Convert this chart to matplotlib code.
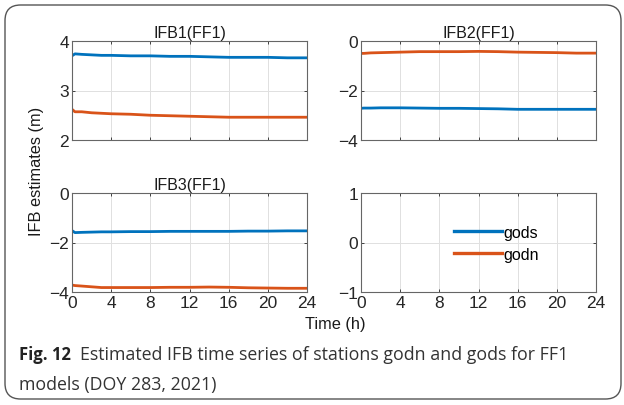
import numpy as np
import matplotlib
matplotlib.use("Agg")
import matplotlib.pyplot as plt
from matplotlib.patches import FancyBboxPatch

# values (time in hours, IFB in metres)
t = [0, 0.3, 1, 2, 3, 4, 6, 8, 10, 12, 14, 16, 18, 20, 22, 24]

ifb1_gods = [3.70, 3.74, 3.73, 3.72, 3.71, 3.71, 3.70, 3.70, 3.69, 3.69, 3.68, 3.67, 3.67, 3.67, 3.66, 3.66]
ifb1_godn = [2.62, 2.57, 2.57, 2.55, 2.54, 2.53, 2.52, 2.50, 2.49, 2.48, 2.47, 2.46, 2.46, 2.46, 2.46, 2.46]

ifb2_gods = [-2.72, -2.71, -2.71, -2.70, -2.70, -2.70, -2.71, -2.72, -2.72, -2.73, -2.74, -2.76, -2.76, -2.76, -2.76, -2.76]
ifb2_godn = [-0.50, -0.50, -0.48, -0.47, -0.46, -0.45, -0.43, -0.43, -0.43, -0.42, -0.43, -0.45, -0.46, -0.47, -0.49, -0.49]

ifb3_gods = [-1.52, -1.60, -1.59, -1.58, -1.57, -1.57, -1.56, -1.56, -1.55, -1.55, -1.55, -1.55, -1.54, -1.54, -1.53, -1.53]
ifb3_godn = [-3.72, -3.74, -3.76, -3.79, -3.82, -3.82, -3.82, -3.82, -3.81, -3.81, -3.80, -3.81, -3.83, -3.84, -3.85, -3.85]

titles = ["IFB1(FF1)", "IFB2(FF1)", "IFB3(FF1)", ""]
ylims = [(2, 4), (-4, 0), (-4, 0), (-1, 1)]
yticks = [[2, 3, 4], [-4, -2, 0], [-4, -2, 0], [-1, 0, 1]]
xticks = [0, 4, 8, 12, 16, 20, 24]

blue = "#0072BD"
orange = "#D95319"

plt.rcParams['font.family'] = ['Liberation Sans', 'DejaVu Sans']
plt.rcParams['axes.unicode_minus'] = True

W, H = 624, 406
fig = plt.figure(figsize=(W/100, H/100), dpi=100)

# rounded frame around the figure + caption
frame = FancyBboxPatch((5/W, 6/H), 616/W, 394/H, boxstyle="round,pad=0,rounding_size=0.025",
                       transform=fig.transFigure, fill=False, edgecolor="#555555", linewidth=1.0,
                       mutation_aspect=W/H)
fig.patches.append(frame)

boxes = [(72, 42), (361, 42), (72, 194), (361, 194)]
aw, ah = 235, 99
series = [(ifb1_gods, ifb1_godn), (ifb2_gods, ifb2_godn), (ifb3_gods, ifb3_godn), (None, None)]

for i, (x0, y0) in enumerate(boxes):
    ax = fig.add_axes([x0/W, (H - y0 - ah)/H, aw/W, ah/H])
    gods, godn = series[i]
    if gods is not None:
        ax.plot(t, gods, color=blue, lw=2.0)
        ax.plot(t, godn, color=orange, lw=2.0)
    else:
        ax.plot([], [], color=blue, lw=2.4, label="gods")
        ax.plot([], [], color=orange, lw=2.4, label="godn")
        ax.legend(loc="upper left", bbox_to_anchor=(0.394, 0.68), frameon=False, fontsize=11.5,
                  handlelength=3.0, handletextpad=0.1, labelspacing=0.45, borderaxespad=0,
                  borderpad=0)
    ax.set_xlim(0, 24)
    ax.set_ylim(*ylims[i])
    ax.set_yticks(yticks[i])
    ax.set_xticks(xticks)
    ax.grid(True, color="#e0e0e0", lw=0.7)
    ax.tick_params(direction="in", length=2.5, width=0.6, top=True, right=True,
                   labelsize=12.5, colors="#262626", pad=2)
    for s in ax.spines.values():
        s.set_color("#666666")
        s.set_linewidth(0.8)
    if i < 2:
        ax.tick_params(labelbottom=False)
    if titles[i]:
        ax.set_title(titles[i], fontsize=11.5, pad=3, color="#1a1a1a")

fig.text(37/W, 1 - 171/H, "IFB estimates (m)", rotation=90, ha="center", va="center",
         fontsize=11.8, color="#1a1a1a")
fig.text(335/W, 1 - 325/H, "Time (h)", ha="center", va="center", fontsize=11.8, color="#1a1a1a")

cap_font = ['Open Sans', 'DejaVu Sans']
fig.text(19/W, 1 - 355/H, "Fig. 12", ha="left", va="center", fontsize=12, fontweight="bold",
         family=cap_font, color="#222222")
fig.text(80/W, 1 - 355/H, "Estimated IFB time series of stations godn and gods for FF1",
         ha="left", va="center", fontsize=12.8, family=cap_font, color="#333333")
fig.text(19/W, 1 - 385/H, "models (DOY 283, 2021)", ha="left", va="center", fontsize=12.8,
         family=cap_font, color="#333333")

fig.savefig("out.png", dpi=100)
